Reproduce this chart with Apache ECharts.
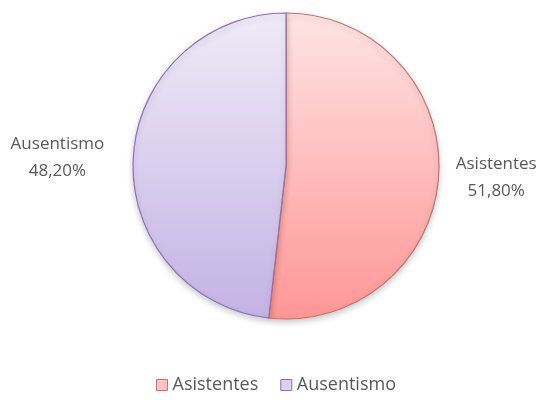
<!DOCTYPE html>
<html>
<head>
<meta charset="utf-8">
<script src="https://cdn.jsdelivr.net/npm/echarts@6/dist/echarts.min.js"></script>
<style>
  html, body { margin: 0; padding: 0; background: #fff; }
  #chart { width: 552px; height: 400px; }
</style>
</head>
<body>
<div id="chart"></div>
<script>
const categories = ['Asistentes', 'Ausentismo'];
const values = [51.8, 48.2];

const fills = [
    ['#ffe4e4', '#ff9696'],
    ['#efebf7', '#c4b2e4']
];
const borders = ['#d06c6a', '#8a72b4'];
const legendFills = ['#ffc4c4', '#dcd2f0'];
const labelGaps = [12, 24];

const chart = echarts.init(document.getElementById('chart'));

const data = categories.map((name, i) => ({
    name: name,
    value: values[i],
    itemStyle: {
        color: new echarts.graphic.LinearGradient(0, 0, 0, 1, [
            {offset: 0, color: fills[i][0]},
            {offset: 1, color: fills[i][1]}
        ]),
        borderColor: borders[i],
        borderWidth: 1.2,
        shadowColor: 'rgba(0,0,0,0.2)',
        shadowBlur: 6,
        shadowOffsetY: 3
    },
    labelLine: {show: false, length: labelGaps[i], length2: 0}
}));

chart.setOption({
    animation: false,
    textStyle: {fontFamily: 'Open Sans'},
    legend: {
        bottom: 1,
        left: 'center',
        itemWidth: 11,
        itemHeight: 11,
        itemGap: 22,
        icon: 'rect',
        textStyle: {color: '#595959', fontSize: 18, fontFamily: 'Open Sans'},
        data: categories.map((name, i) => ({
            name: name,
            itemStyle: {color: legendFills[i], borderColor: borders[i], borderWidth: 1}
        }))
    },
    series: [{
        type: 'pie',
        center: [286, 166],
        radius: 153,
        startAngle: 90,
        clockwise: true,
        label: {
            show: true,
            position: 'outside',
            overflow: 'none',
            edgeDistance: 0,
            formatter: (p) => p.name + '\n' + p.value.toFixed(2).replace('.', ',') + '%',
            color: '#595959',
            fontSize: 17,
            lineHeight: 27,
            fontFamily: 'Open Sans'
        },
        labelLine: {show: false},
        // keep the block where the pie puts it, but centre each line
        labelLayout: (p) => ({
            x: p.labelRect.x + p.labelRect.width / 2,
            dy: 2,
            align: 'center'
        }),
        data: data
    }]
});
</script>
</body>
</html>
